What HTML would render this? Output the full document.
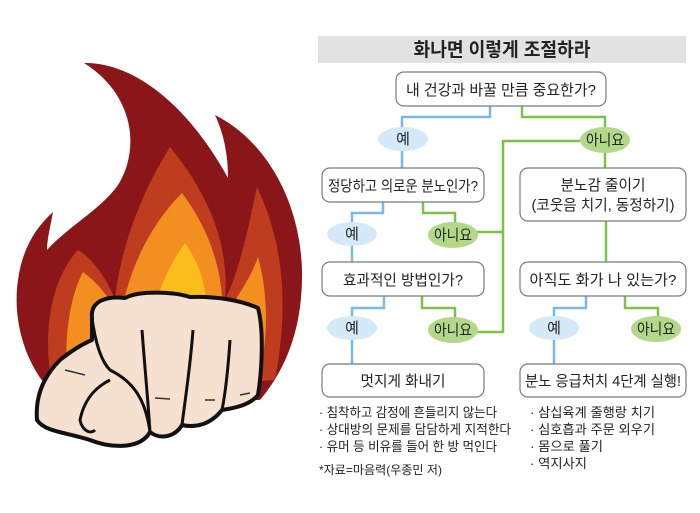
<!DOCTYPE html>
<html><head><meta charset="utf-8">
<style>
body{margin:0;background:#fff;}
svg{display:block}
text{font-family:"Liberation Sans","Noto Sans CJK KR",sans-serif;fill:#222}
.b{fill:#fff;stroke:#7a7a7a;stroke-width:1.2}
.bl{stroke:#7ab8e6;stroke-width:2.5;fill:none}
.gl{stroke:#7dc242;stroke-width:2.5;fill:none}
.bo{fill:#d4eaf8}
.go{fill:#b3d88a}
.t{font-size:15px;text-anchor:middle}
.s{font-size:13px}
</style></head><body>
<svg width="700" height="513" viewBox="0 0 700 513">
<!-- flame -->
<path fill="#8b161a" d="M84,63 C130,62 185,100 228,178 C228,150 222,130 215,115 C265,140 300,200 302,270 C303,330 285,370 260,400 L60,400 C25,370 12,320 18,280 C22,250 35,228 53,212 C50,228 47,240 47,250 C70,225 100,210 118,185 C140,150 135,95 84,63 Z"/>
<path fill="#bf3d1e" d="M170,147 C205,190 230,240 225,300 C240,270 250,220 257,187 C282,240 290,300 275,380 L55,395 C40,340 50,280 78,250 C95,260 110,285 115,300 C120,250 140,195 170,147 Z"/>
<path fill="#f28f20" d="M182,193 C210,230 225,275 222,320 C235,300 250,280 258,257 C270,300 268,350 255,390 L70,395 C62,350 68,300 83,272 C100,285 112,300 120,320 C128,270 150,225 182,193 Z"/>
<path fill="#fbbd1c" d="M185,243 C200,265 210,290 205,330 L150,330 C155,300 165,270 185,243 Z"/>
<!-- fist -->
<path fill="#f6e0cf" stroke="#111" stroke-width="4" stroke-linejoin="round" d="M92,318 C90,300 108,296 125,298 C140,290 175,292 190,297 C215,296 240,300 258,308 C264,330 262,370 258,395 C250,405 235,408 222,410 C210,425 195,428 182,425 C175,437 160,440 150,432 C140,450 110,448 90,440 C65,432 45,432 37,420 C35,395 45,375 60,360 C70,352 80,345 92,340 Z"/>
<path fill="none" stroke="#111" stroke-width="3" d="M92,318 C95,340 100,360 110,370 C130,380 145,395 150,432 M142,330 C145,370 148,400 150,432 M193,330 C190,370 185,400 182,425 M230,340 C228,370 225,395 222,410 M110,380 C100,385 85,395 80,420 C82,430 90,435 95,430"/>
<path fill="none" stroke="#333" stroke-width="1.5" d="M155,398 L170,399 M205,400 L215,400 M240,395 L250,393 M65,370 L85,375"/>
<!-- right diagram -->
<rect x="318" y="36" width="368" height="27" fill="#e2e2e2"/>
<text x="502" y="56" style="font-size:19px;font-weight:bold;text-anchor:middle" textLength="177" lengthAdjust="spacingAndGlyphs">화나면 이렇게 조절하라</text>
<!-- connectors -->
<path class="bl" d="M490,106 V117 H402 V130"/>
<path class="bl" d="M402,148 V168"/>
<path class="gl" d="M522,106 V117 H605 V130"/>
<path class="gl" d="M605,150 V168"/>
<path class="gl" d="M580,141 H503 V332 H470"/>
<path class="gl" d="M470,232 H503"/>
<path class="bl" d="M383,202 V213 H352 V225"/>
<path class="bl" d="M352,243 V262"/>
<path class="gl" d="M423,202 V213 H455 V225"/>
<path class="bl" d="M384,296 V308 H352 V318"/>
<path class="bl" d="M352,338 V364"/>
<path class="gl" d="M422,296 V308 H455 V318"/>
<path class="gl" d="M606,221 V262"/>
<path class="bl" d="M586,296 V308 H554 V318"/>
<path class="bl" d="M554,338 V364"/>
<path class="gl" d="M625,296 V308 H658 V318"/>
<!-- boxes -->
<rect class="b" x="396" y="72" width="210" height="34" rx="8"/>
<text class="t" x="501" y="95" textLength="190" lengthAdjust="spacingAndGlyphs">내 건강과 바꿀 만큼 중요한가?</text>
<rect class="b" x="322" y="168" width="162" height="34" rx="8"/>
<text class="t" x="403" y="191" textLength="150" lengthAdjust="spacingAndGlyphs">정당하고 의로운 분노인가?</text>
<rect class="b" x="520" y="168" width="166" height="53" rx="8"/>
<text class="t" x="603" y="190" textLength="85" lengthAdjust="spacingAndGlyphs">분노감 줄이기</text>
<text class="t" x="603" y="210" textLength="143" lengthAdjust="spacingAndGlyphs">(코웃음 치기, 동정하기)</text>
<rect class="b" x="322" y="262" width="162" height="34" rx="8"/>
<text class="t" x="403" y="285" textLength="120" lengthAdjust="spacingAndGlyphs">효과적인 방법인가?</text>
<rect class="b" x="520" y="262" width="166" height="34" rx="8"/>
<text class="t" x="603" y="285" textLength="147" lengthAdjust="spacingAndGlyphs">아직도 화가 나 있는가?</text>
<rect class="b" x="322" y="364" width="162" height="33" rx="8"/>
<text class="t" x="403" y="386" textLength="85" lengthAdjust="spacingAndGlyphs">멋지게 화내기</text>
<rect class="b" x="520" y="364" width="166" height="33" rx="8"/>
<text class="t" x="603" y="386" textLength="156" lengthAdjust="spacingAndGlyphs">분노 응급처치 4단계 실행!</text>
<!-- ovals -->
<ellipse class="bo" cx="403" cy="139" rx="25" ry="12"/><text class="t" x="403" y="144">예</text>
<ellipse class="go" cx="605" cy="140" rx="25" ry="13"/><text class="t" x="605" y="145" textLength="38" lengthAdjust="spacingAndGlyphs">아니요</text>
<ellipse class="bo" cx="352" cy="234" rx="25" ry="12"/><text class="t" x="352" y="239">예</text>
<ellipse class="go" cx="453" cy="235" rx="25" ry="13"/><text class="t" x="453" y="240" textLength="38" lengthAdjust="spacingAndGlyphs">아니요</text>
<ellipse class="bo" cx="352" cy="328" rx="25" ry="12"/><text class="t" x="352" y="333">예</text>
<ellipse class="go" cx="453" cy="330" rx="25" ry="13"/><text class="t" x="453" y="335" textLength="38" lengthAdjust="spacingAndGlyphs">아니요</text>
<ellipse class="bo" cx="554" cy="328" rx="25" ry="12"/><text class="t" x="554" y="333">예</text>
<ellipse class="go" cx="656" cy="329" rx="25" ry="13"/><text class="t" x="656" y="334" textLength="38" lengthAdjust="spacingAndGlyphs">아니요</text>
<!-- notes -->
<text class="s" x="319" y="417" textLength="178" lengthAdjust="spacingAndGlyphs">· 침착하고 감정에 흔들리지 않는다</text>
<text class="s" x="319" y="434" textLength="192" lengthAdjust="spacingAndGlyphs">· 상대방의 문제를 담담하게 지적한다</text>
<text class="s" x="319" y="451" textLength="178" lengthAdjust="spacingAndGlyphs">· 유머 등 비유를 들어 한 방 먹인다</text>
<text class="s" x="319" y="474" style="font-size:12px" textLength="123" lengthAdjust="spacingAndGlyphs">*자료=마음력(우종민 저)</text>
<text class="s" x="530" y="417" textLength="125" lengthAdjust="spacingAndGlyphs">· 삼십육계 줄행랑 치기</text>
<text class="s" x="530" y="434" textLength="125" lengthAdjust="spacingAndGlyphs">· 심호흡과 주문 외우기</text>
<text class="s" x="530" y="451" textLength="73" lengthAdjust="spacingAndGlyphs">· 몸으로 풀기</text>
<text class="s" x="530" y="468" textLength="57" lengthAdjust="spacingAndGlyphs">· 역지사지</text>
</svg>
</body></html>
